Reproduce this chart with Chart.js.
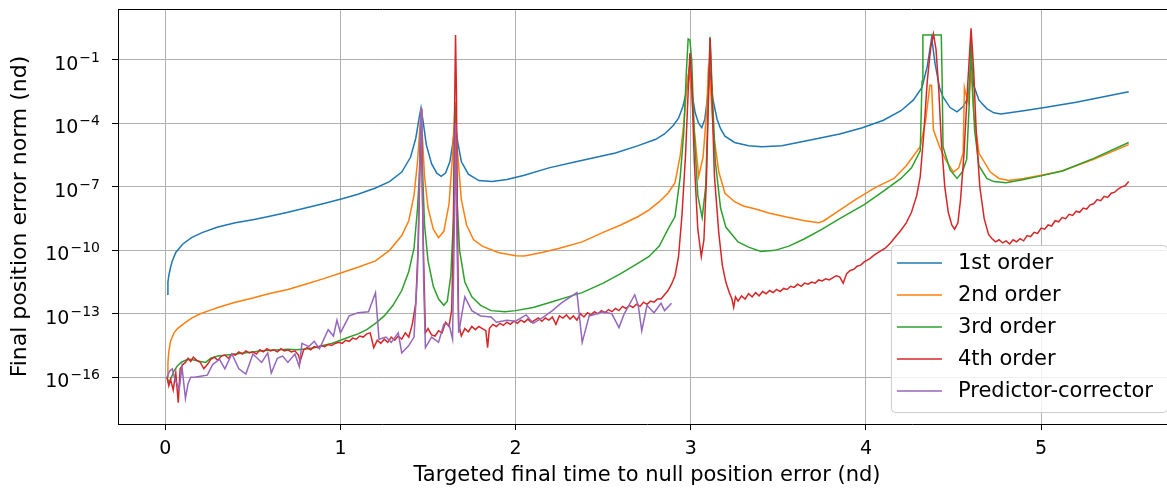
<!DOCTYPE html>
<html>
<head>
<meta charset="utf-8">
<script src="https://cdn.jsdelivr.net/npm/chart.js@4.4.1/dist/chart.umd.min.js"></script>
<style>
  html, body { margin: 0; padding: 0; background: #fff; overflow: hidden; }
  #wrap { width: 1180px; height: 488px; }
</style>
</head>
<body>
<div id="wrap"><canvas id="myChart" width="1180" height="488"></canvas></div>
<script>
// each point: [targeted final time (nd), log10 of final position error norm]
const ord1 = [
  [0.01,-12.08],[0.015,-11.5],[0.02,-11.2],[0.03,-10.8],[0.04,-10.5],[0.06,-10.1],[0.08,-9.9],[0.1,-9.7],
  [0.15,-9.4],[0.21,-9.16],[0.3,-8.9],[0.4,-8.7],[0.5,-8.55],[0.59,-8.4],[0.7,-8.2],[0.8,-8.0],[0.9,-7.8],
  [1.01,-7.56],[1.1,-7.35],[1.2,-7.05],[1.28,-6.75],[1.35,-6.3],[1.4,-5.6],[1.43,-4.7],[1.45,-3.7],[1.46,-3.26],
  [1.47,-3.8],[1.49,-5.0],[1.52,-5.9],[1.55,-6.35],[1.575,-6.5],[1.6,-6.35],[1.625,-5.8],[1.64,-5.0],[1.655,-4.0],
  [1.67,-4.9],[1.69,-5.8],[1.73,-6.4],[1.79,-6.7],[1.865,-6.75],[1.95,-6.65],[2.05,-6.45],[2.19,-6.1],[2.35,-5.8],
  [2.57,-5.4],[2.7,-5.05],[2.8,-4.75],[2.85,-4.5],[2.9,-4.1],[2.93,-3.75],[2.955,-3.2],[2.975,-2.5],[2.99,-1.5],
  [3.005,-2.5],[3.025,-3.5],[3.045,-4.0],[3.063,-4.2],[3.08,-3.8],[3.095,-2.8],[3.11,-1.6],[3.125,-2.8],[3.15,-3.8],
  [3.17,-4.25],[3.195,-4.6],[3.25,-4.9],[3.33,-5.05],[3.405,-5.1],[3.52,-5.05],[3.69,-4.77],[3.85,-4.5],[3.98,-4.2],
  [4.1,-3.85],[4.2,-3.4],[4.27,-2.9],[4.32,-2.3],[4.35,-1.3],[4.375,0.04],[4.395,-1.2],[4.42,-2.3],[4.44,-2.75],
  [4.48,-3.25],[4.52,-3.45],[4.555,-3.2],[4.585,-2.75],[4.6,-1.0],[4.615,-2.2],[4.645,-2.9],[4.69,-3.3],[4.73,-3.5],
  [4.77,-3.55],[4.9,-3.4],[5.02,-3.25],[5.2,-3.0],[5.35,-2.75],[5.5,-2.5]
];
const ord2 = [
  [0.01,-16.0],[0.015,-15.3],[0.02,-14.8],[0.03,-14.3],[0.05,-13.9],[0.07,-13.7],[0.1,-13.5],[0.15,-13.2],
  [0.2,-13.0],[0.25,-12.85],[0.3,-12.7],[0.4,-12.45],[0.5,-12.25],[0.59,-12.05],[0.7,-11.85],[0.8,-11.6],
  [0.9,-11.35],[1.01,-11.05],[1.1,-10.8],[1.2,-10.5],[1.28,-10.0],[1.35,-9.3],[1.39,-8.6],[1.42,-7.4],[1.44,-5.8],
  [1.455,-4.0],[1.46,-3.3],[1.465,-4.2],[1.48,-6.5],[1.5,-8.0],[1.53,-9.0],[1.56,-9.4],[1.59,-9.1],[1.62,-7.8],
  [1.64,-5.5],[1.655,-3.0],[1.665,-5.0],[1.69,-7.6],[1.72,-8.8],[1.76,-9.5],[1.81,-9.8],[1.9,-10.1],[2.0,-10.25],
  [2.05,-10.27],[2.15,-10.1],[2.25,-9.9],[2.38,-9.6],[2.5,-9.15],[2.6,-8.8],[2.7,-8.4],[2.76,-8.1],[2.82,-7.7],
  [2.87,-7.3],[2.91,-6.8],[2.94,-5.5],[2.96,-4.0],[2.98,-2.0],[2.99,-1.5],[3.0,-2.0],[3.02,-4.3],[3.045,-6.5],
  [3.07,-5.6],[3.09,-3.5],[3.1,-1.5],[3.11,-2.0],[3.13,-4.5],[3.16,-6.3],[3.195,-7.3],[3.25,-7.7],[3.3,-7.9],
  [3.37,-8.05],[3.45,-8.25],[3.56,-8.45],[3.65,-8.6],[3.73,-8.7],[3.76,-8.6],[3.85,-8.1],[3.94,-7.6],[4.05,-7.05],
  [4.16,-6.6],[4.23,-6.0],[4.31,-5.1],[4.34,-3.9],[4.365,-2.2],[4.375,-2.2],[4.385,-4.3],[4.42,-5.1],[4.46,-5.8],
  [4.5,-6.3],[4.53,-6.1],[4.555,-5.4],[4.562,-2.3],[4.57,-2.6],[4.585,-3.0],[4.6,-1.5],[4.615,-3.5],[4.645,-5.4],
  [4.71,-6.3],[4.76,-6.6],[4.815,-6.7],[4.9,-6.6],[5.0,-6.45],[5.12,-6.25],[5.3,-5.7],[5.5,-5.0]
];
const ord3 = [
  [0.01,-16.0],[0.02,-16.3],[0.035,-16.0],[0.05,-15.7],[0.07,-15.45],[0.09,-15.3],[0.115,-15.2],[0.14,-15.15],
  [0.17,-15.2],[0.2,-15.25],[0.23,-15.3],[0.26,-15.1],[0.3,-15.0],[0.35,-14.95],[0.4,-14.9],[0.45,-14.85],
  [0.5,-14.8],[0.55,-14.75],[0.6,-14.72],[0.65,-14.7],[0.7,-14.68],[0.75,-14.7],[0.8,-14.66],[0.85,-14.6],
  [0.9,-14.5],[0.95,-14.4],[1.0,-14.25],[1.05,-14.1],[1.1,-13.95],[1.15,-13.75],[1.2,-13.45],[1.25,-13.1],
  [1.3,-12.6],[1.35,-11.9],[1.39,-11.0],[1.42,-9.9],[1.44,-8.0],[1.45,-6.5],[1.46,-3.5],[1.47,-6.5],[1.48,-8.8],
  [1.5,-10.5],[1.53,-11.7],[1.56,-12.3],[1.59,-12.6],[1.61,-12.4],[1.63,-11.2],[1.645,-8.5],[1.655,-3.2],
  [1.665,-7.5],[1.68,-10.0],[1.71,-11.5],[1.75,-12.2],[1.8,-12.6],[1.86,-12.85],[1.94,-12.9],[2.0,-12.85],
  [2.1,-12.7],[2.2,-12.45],[2.3,-12.2],[2.38,-12.0],[2.5,-11.55],[2.6,-11.1],[2.7,-10.6],[2.76,-10.3],[2.82,-9.8],
  [2.87,-9.0],[2.91,-8.4],[2.94,-6.5],[2.96,-4.4],[2.975,-1.5],[2.985,0.0],[2.995,-0.06],[3.005,-1.0],[3.02,-4.5],
  [3.04,-7.4],[3.065,-8.45],[3.085,-7.0],[3.1,-3.0],[3.11,0.1],[3.12,-2.0],[3.14,-5.8],[3.17,-8.0],[3.2,-8.9],
  [3.27,-9.6],[3.33,-9.85],[3.4,-10.05],[3.48,-10.0],[3.56,-9.8],[3.65,-9.45],[3.75,-9.0],[3.85,-8.5],[3.99,-7.84],
  [4.1,-7.2],[4.2,-6.6],[4.26,-6.1],[4.31,-5.3],[4.32,-2.0],[4.325,0.18],[4.43,0.18],[4.435,-2.0],[4.44,-5.1],
  [4.48,-6.2],[4.52,-6.6],[4.55,-6.3],[4.575,-5.7],[4.59,-3.0],[4.6,0.1],[4.61,-2.5],[4.62,-4.3],[4.645,-6.0],
  [4.69,-6.6],[4.73,-6.75],[4.8,-6.8],[4.9,-6.65],[5.0,-6.48],[5.12,-6.25],[5.3,-5.65],[5.5,-4.9]
];
const ord4 = [
  [0.01,-16.0],[0.02,-16.4],[0.03,-16.1],[0.045,-16.6],[0.06,-15.8],[0.074,-17.2],[0.085,-15.6],[0.1,-15.4],
  [0.115,-15.3],[0.13,-15.1],[0.145,-15.25],[0.16,-15.05],[0.18,-15.2],[0.2,-15.3],[0.22,-15.6],[0.24,-15.4],
  [0.26,-15.15],[0.28,-15.05],[0.3,-15.2],[0.32,-15.0],[0.34,-14.95],[0.36,-15.1],[0.38,-14.9],[0.4,-14.95],
  [0.42,-14.8],[0.44,-14.9],[0.46,-14.75],[0.48,-14.85],[0.5,-14.8],[0.52,-14.9],[0.54,-14.7],[0.56,-14.8],
  [0.58,-14.65],[0.6,-14.75],[0.62,-14.7],[0.64,-14.8],[0.66,-14.65],[0.68,-14.75],[0.7,-14.7],[0.72,-14.8],
  [0.74,-14.75],[0.76,-14.95],[0.77,-15.25],[0.79,-14.7],[0.81,-14.6],[0.83,-14.7],[0.85,-14.55],[0.87,-14.6],
  [0.89,-14.5],[0.91,-14.55],[0.93,-14.45],[0.95,-14.5],[0.97,-14.4],[0.99,-14.35],[1.01,-14.4],[1.03,-14.25],
  [1.05,-14.3],[1.07,-14.15],[1.09,-14.2],[1.11,-14.05],[1.13,-14.1],[1.15,-13.95],[1.17,-13.9],[1.19,-14.6],
  [1.21,-14.25],[1.23,-14.4],[1.25,-14.2],[1.27,-14.35],[1.29,-14.1],[1.31,-14.25],[1.33,-14.05],[1.35,-14.2],
  [1.37,-13.9],[1.39,-14.1],[1.41,-13.5],[1.43,-12.5],[1.445,-9.5],[1.455,-5.5],[1.46,-4.5],[1.465,-6.0],
  [1.475,-10.5],[1.485,-13.9],[1.5,-13.7],[1.52,-14.0],[1.54,-14.05],[1.56,-13.8],[1.58,-13.9],[1.6,-13.4],
  [1.62,-13.6],[1.635,-12.8],[1.645,-9.0],[1.652,-3.0],[1.657,0.18],[1.662,-2.5],[1.668,-9.0],[1.675,-13.5],
  [1.69,-14.05],[1.71,-13.7],[1.73,-13.85],[1.75,-13.6],[1.77,-13.75],[1.79,-13.6],[1.81,-13.7],[1.83,-13.8],
  [1.84,-14.6],[1.85,-13.7],[1.87,-13.5],[1.89,-13.6],[1.91,-13.45],[1.93,-13.55],[1.95,-13.4],[1.97,-13.5],
  [1.99,-13.35],[2.01,-13.45],[2.03,-13.3],[2.05,-13.4],[2.07,-13.25],[2.09,-13.4],[2.11,-13.3],[2.13,-13.2],
  [2.15,-13.35],[2.17,-13.2],[2.19,-13.3],[2.21,-13.15],[2.23,-13.5],[2.25,-13.1],[2.27,-13.2],[2.29,-13.05],
  [2.31,-13.25],[2.33,-13.1],[2.35,-13.3],[2.37,-13.0],[2.39,-13.15],[2.41,-12.95],[2.43,-13.05],[2.45,-12.9],
  [2.47,-13.0],[2.49,-12.85],[2.51,-12.95],[2.53,-12.8],[2.55,-12.9],[2.57,-12.75],[2.59,-12.85],[2.61,-12.65],
  [2.63,-12.75],[2.65,-12.6],[2.67,-12.7],[2.69,-12.55],[2.71,-12.65],[2.73,-12.45],[2.75,-12.55],[2.77,-12.4],
  [2.79,-12.45],[2.81,-12.3],[2.83,-12.3],[2.85,-12.1],[2.87,-11.9],[2.89,-11.6],[2.91,-11.2],[2.93,-10.3],
  [2.95,-8.3],[2.97,-5.5],[2.985,-2.5],[2.995,-0.67],[3.005,-2.0],[3.02,-5.8],[3.04,-9.0],[3.06,-10.3],
  [3.075,-9.5],[3.09,-6.5],[3.1,-3.0],[3.11,0.04],[3.12,-2.5],[3.135,-6.5],[3.16,-9.2],[3.18,-10.7],[3.2,-11.5],
  [3.22,-12.0],[3.235,-12.3],[3.245,-12.7],[3.255,-12.2],[3.27,-12.4],[3.29,-12.15],[3.31,-12.3],[3.33,-12.05],
  [3.35,-12.2],[3.37,-12.0],[3.39,-12.15],[3.41,-11.95],[3.43,-12.05],[3.45,-11.9],[3.47,-12.0],[3.49,-11.85],
  [3.51,-11.95],[3.53,-11.8],[3.55,-11.85],[3.57,-11.7],[3.59,-11.75],[3.61,-11.6],[3.63,-11.7],[3.65,-11.55],
  [3.67,-11.6],[3.69,-11.5],[3.71,-11.55],[3.73,-11.4],[3.75,-11.45],[3.77,-11.35],[3.79,-11.4],[3.81,-11.3],
  [3.83,-11.2],[3.85,-11.25],[3.87,-11.55],[3.89,-11.1],[3.91,-10.95],[3.93,-10.9],[3.95,-10.75],[3.97,-10.7],
  [3.99,-10.55],[4.02,-10.4],[4.05,-10.2],[4.08,-10.05],[4.11,-9.9],[4.14,-9.65],[4.17,-9.35],[4.2,-9.05],
  [4.23,-8.7],[4.26,-8.2],[4.29,-7.4],[4.31,-6.5],[4.33,-4.5],[4.35,-2.0],[4.37,-0.4],[4.385,0.23],[4.4,-0.5],
  [4.415,-2.3],[4.43,-4.8],[4.45,-7.0],[4.47,-8.2],[4.49,-8.8],[4.506,-9.0],[4.525,-8.7],[4.54,-7.6],[4.56,-5.4],
  [4.58,-2.3],[4.6,0.5],[4.615,-1.5],[4.63,-4.5],[4.65,-7.0],[4.675,-8.5],[4.7,-9.25],[4.72,-9.45],[4.74,-9.6],
  [4.76,-9.5],[4.78,-9.65],[4.8,-9.55],[4.82,-9.7],[4.84,-9.5],[4.86,-9.6],[4.88,-9.45],[4.9,-9.55],[4.92,-9.3],
  [4.94,-9.35],[4.96,-9.15],[4.98,-9.2],[5.0,-8.95],[5.02,-9.0],[5.04,-8.8],[5.06,-8.85],[5.08,-8.6],[5.1,-8.65],
  [5.12,-8.45],[5.14,-8.5],[5.16,-8.3],[5.18,-8.35],[5.2,-8.15],[5.22,-8.2],[5.24,-8.0],[5.26,-8.05],[5.28,-7.85],
  [5.3,-7.8],[5.32,-7.6],[5.34,-7.65],[5.36,-7.45],[5.38,-7.5],[5.4,-7.3],[5.42,-7.25],[5.44,-7.1],[5.46,-7.0],
  [5.48,-6.95],[5.5,-6.75]
];
const predCorr = [
  [0.01,-16.0],[0.025,-15.7],[0.04,-15.6],[0.055,-16.1],[0.08,-16.55],[0.095,-15.5],[0.115,-17.0],[0.13,-16.3],
  [0.145,-16.0],[0.17,-16.0],[0.2,-15.95],[0.24,-15.9],[0.27,-15.4],[0.31,-15.15],[0.34,-15.6],[0.38,-14.9],
  [0.42,-15.6],[0.46,-15.85],[0.5,-14.9],[0.55,-15.3],[0.585,-14.85],[0.605,-15.8],[0.64,-15.1],[0.67,-15.0],
  [0.7,-15.3],[0.74,-14.9],[0.765,-15.5],[0.78,-14.4],[0.82,-14.55],[0.85,-14.3],[0.88,-14.65],[0.93,-13.75],
  [0.96,-14.05],[0.98,-13.3],[1.0,-13.9],[1.05,-13.1],[1.1,-12.95],[1.16,-12.9],[1.2,-12.0],[1.22,-14.2],
  [1.26,-14.1],[1.29,-14.35],[1.33,-13.9],[1.35,-14.85],[1.39,-14.5],[1.42,-14.1],[1.44,-11.0],[1.455,-5.0],
  [1.46,-3.3],[1.465,-5.5],[1.475,-11.5],[1.485,-14.6],[1.52,-14.1],[1.56,-14.35],[1.59,-13.5],[1.62,-13.5],
  [1.64,-14.2],[1.65,-9.0],[1.657,-4.0],[1.664,-9.0],[1.675,-13.9],[1.71,-12.2],[1.75,-12.85],[1.8,-13.1],
  [1.86,-13.15],[1.89,-13.4],[1.95,-13.3],[2.0,-13.35],[2.06,-13.05],[2.1,-13.45],[2.15,-13.2],[2.21,-12.85],
  [2.26,-12.5],[2.35,-12.0],[2.38,-14.35],[2.42,-13.1],[2.5,-12.9],[2.55,-13.0],[2.59,-13.65],[2.62,-13.0],
  [2.68,-12.1],[2.7,-12.6],[2.72,-13.8],[2.75,-12.6],[2.79,-12.95],[2.83,-12.5],[2.85,-12.85],[2.89,-12.5]
];

const allSeries = [ord1, ord2, ord3, ord4, predCorr];
const seriesNames = ["1st order", "2nd order", "3rd order", "4th order", "Predictor-corrector"];
const seriesColors = ["#1f77b4", "#ff7f0e", "#2ca02c", "#d62728", "#9467bd"];
const xTicks = [0, 1, 2, 3, 4, 5];
const yTicks = [1e-16, 1e-13, 1e-10, 1e-7, 1e-4, 1e-1];
const xMin = -0.27, xMax = 5.77;
const yMin = Math.pow(10, -18.21), yMax = Math.pow(10, 1.41);

const FONT = "DejaVu Sans";

// spines, matplotlib style 10^n labels and the in-plot legend
const extras = {
  id: "extras",
  afterDraw(chart) {
    const ctx = chart.ctx;
    const area = chart.chartArea;
    const ys = chart.scales.y;
    ctx.save();
    ctx.strokeStyle = "#000";
    ctx.lineWidth = 1;
    ctx.beginPath();
    ctx.moveTo(area.left, area.top + 0.5);
    ctx.lineTo(area.right, area.top + 0.5);
    ctx.moveTo(area.right - 0.5, area.top);
    ctx.lineTo(area.right - 0.5, area.bottom);
    ctx.stroke();

    ctx.fillStyle = "#000";
    ys.ticks.forEach(t => {
      const py = ys.getPixelForValue(t.value);
      const e = Math.round(Math.log10(t.value));
      const sup = (e < 0 ? "\u2212" : "") + Math.abs(e);
      const right = area.left - 18;
      ctx.font = "14px '" + FONT + "'";
      const sw = ctx.measureText(sup).width;
      ctx.textAlign = "left";
      ctx.textBaseline = "alphabetic";
      ctx.fillText(sup, right - sw, py + 2);
      ctx.font = "19px '" + FONT + "'";
      ctx.textAlign = "right";
      ctx.fillText("10", right - sw - 1, py + 10);
    });

    // legend box in the lower right corner
    const sets = chart.data.datasets;
    ctx.font = "21px '" + FONT + "'";
    const textW = Math.max(...sets.map(d => ctx.measureText(d.label).width));
    const rowH = 32;
    const boxW = 6 + 45 + 16 + textW + 14;
    const boxH = rowH * sets.length + 7;
    const boxR = area.right - 9;
    const boxB = area.bottom - 12;
    const boxL = boxR - boxW, boxT = boxB - boxH;
    ctx.beginPath();
    ctx.roundRect(boxL + 0.5, boxT + 0.5, boxW, boxH, 4);
    ctx.fillStyle = "rgba(255,255,255,0.8)";
    ctx.fill();
    ctx.strokeStyle = "#cccccc";
    ctx.stroke();
    sets.forEach((d, i) => {
      const cy = boxT + 18 + i * rowH;
      ctx.strokeStyle = d.borderColor;
      ctx.lineWidth = 1.5;
      ctx.beginPath();
      ctx.moveTo(boxL + 6, cy);
      ctx.lineTo(boxL + 51, cy);
      ctx.stroke();
      ctx.fillStyle = "#000";
      ctx.textAlign = "left";
      ctx.textBaseline = "middle";
      ctx.fillText(d.label, boxL + 67, cy + 1);
    });
    ctx.restore();
  }
};

const ctx = document.getElementById("myChart");
new Chart(ctx, {
  type: "line",
  data: {
    datasets: allSeries.map((s, i) => ({
      label: seriesNames[i],
      data: s.map(p => ({ x: p[0], y: Math.pow(10, p[1]) })),
      borderColor: seriesColors[i],
      backgroundColor: seriesColors[i],
      borderWidth: 1.5,
      pointRadius: 0,
      tension: 0,
      fill: false,
      order: allSeries.length - i
    }))
  },
  options: {
    responsive: false,
    animation: false,
    devicePixelRatio: 1,
    layout: { padding: { top: 9, right: 4, left: 0, bottom: 0 } },
    plugins: { legend: { display: false }, tooltip: { enabled: false } },
    scales: {
      x: {
        type: "linear",
        min: xMin,
        max: xMax,
        afterBuildTicks: s => { s.ticks = xTicks.map(v => ({ value: v })); },
        afterFit: s => { s.height = 64; },
        grid: { color: "#b0b0b0", lineWidth: 1, tickLength: 6, tickColor: "#000" },
        border: { color: "#000", width: 1 },
        ticks: {
          font: { family: FONT, size: 19 },
          color: "#000",
          padding: 8,
          maxRotation: 0,
          callback: v => String(v)
        },
        title: {
          display: true,
          text: "Targeted final time to null position error (nd)",
          font: { family: FONT, size: 21 },
          color: "#000",
          padding: { top: 0, bottom: 0 }
        }
      },
      y: {
        type: "logarithmic",
        min: yMin,
        max: yMax,
        afterBuildTicks: s => { s.ticks = yTicks.map(v => ({ value: v })); },
        afterFit: s => { s.width = 118; },
        grid: { color: "#b0b0b0", lineWidth: 1, tickLength: 6, tickColor: "#000" },
        border: { color: "#000", width: 1 },
        ticks: { display: false },
        title: {
          display: true,
          text: "Final position error norm (nd)",
          font: { family: FONT, size: 22 },
          color: "#000",
          padding: { top: 7, bottom: 0 }
        }
      }
    }
  },
  plugins: [extras]
});
</script>
</body>
</html>
